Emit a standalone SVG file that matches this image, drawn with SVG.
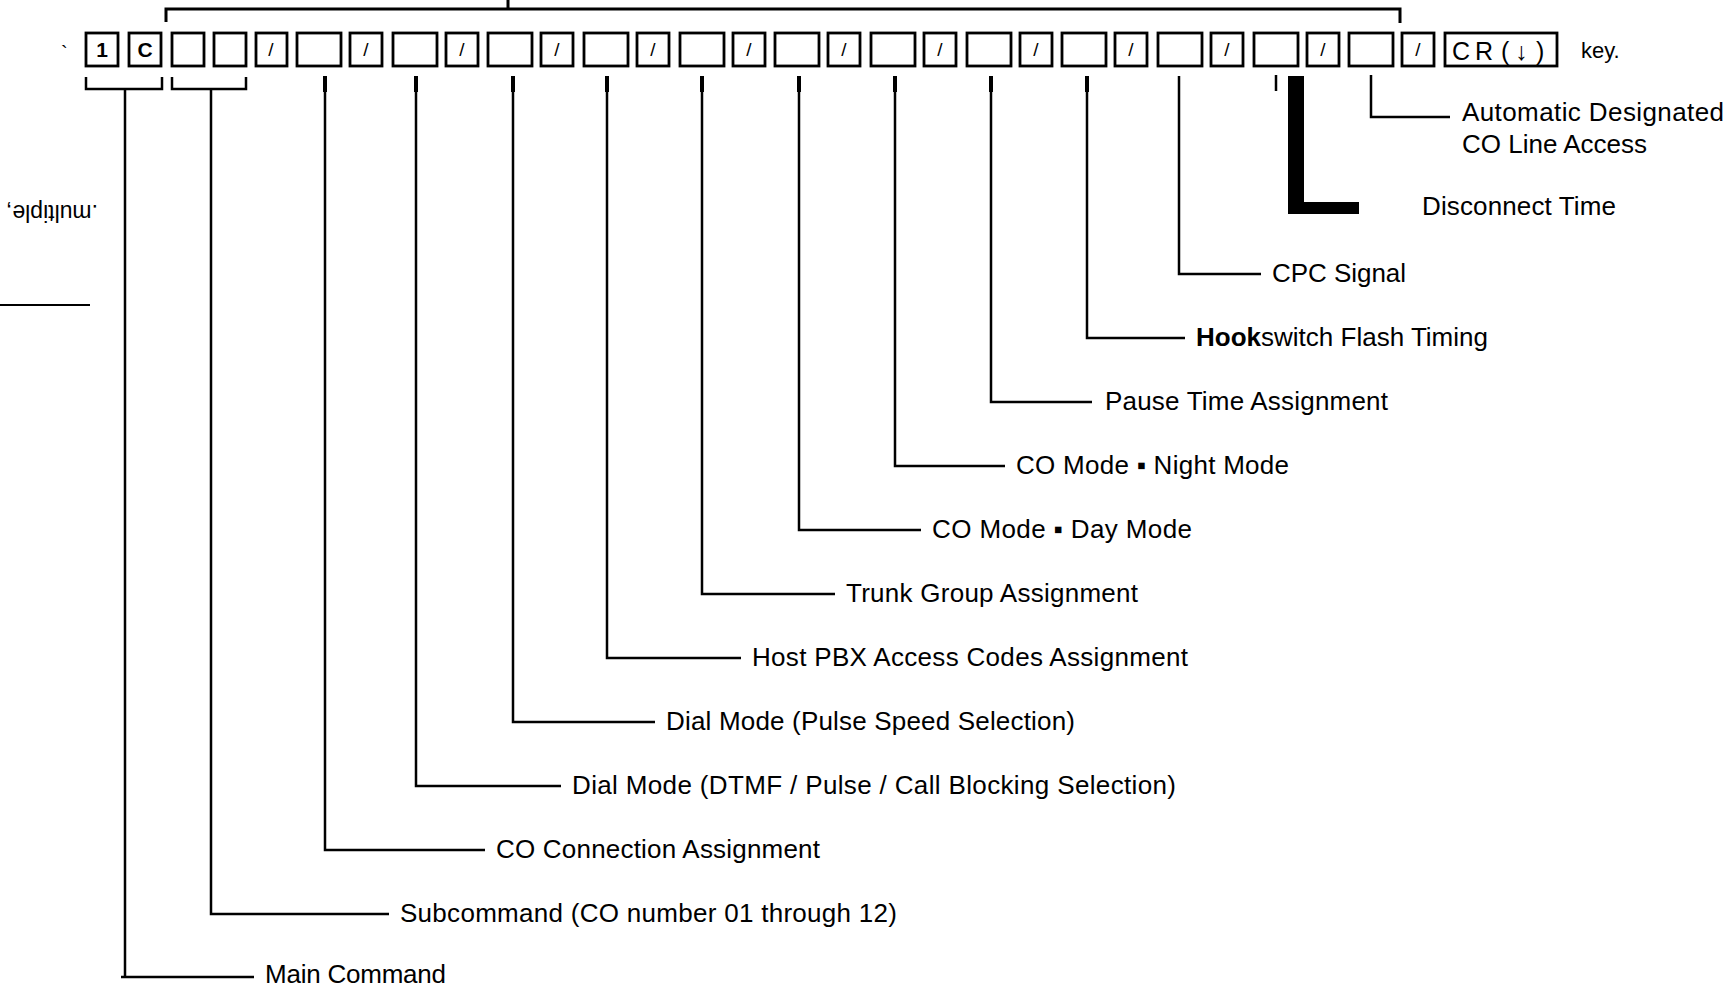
<svg xmlns="http://www.w3.org/2000/svg" width="1734" height="986" viewBox="0 0 1734 986">
<style>
.box{fill:#fff;stroke:#000;stroke-width:2.8}
.ln{fill:none;stroke:#000;stroke-width:2.5}
.bk{fill:none;stroke:#000;stroke-width:3}
.thick{fill:none;stroke:#000;stroke-width:4}
.t{font-family:"Liberation Sans",Arial,Helvetica,sans-serif;fill:#000}
.lbl{font-size:26px}
.kc{font-size:21px;font-weight:bold;text-anchor:middle}
.sl{font-size:19px;text-anchor:middle}
.cr{font-size:25px}
</style>
<rect width="1734" height="986" fill="#fff"/>

<g id="margin-notes">
<text class="t" x="61" y="60" font-size="20">`</text>
<text class="t" font-size="23" transform="translate(98,205) rotate(180)">.multiple,</text>
<path d="M0,305 H90" stroke="#000" stroke-width="2.2" fill="none"/>
</g>

<g id="keys">
<g id="key-1"><rect class="box" x="86" y="33" width="32" height="33"/><text class="t kc" x="102" y="57">1</text></g>
<g id="key-C"><rect class="box" x="129" y="33" width="32" height="33"/><text class="t kc" x="145" y="57">C</text></g>
<g id="key-sub1"><rect class="box" x="172" y="33" width="32" height="33"/></g>
<g id="key-sub2"><rect class="box" x="214" y="33" width="32" height="33"/></g>
<g id="key-s0"><rect class="box" x="256" y="33" width="31" height="33"/><text class="t sl" x="271" y="56">/</text></g>

<g id="key-e0"><rect class="box" x="297" y="33" width="44" height="33"/></g>
<g id="key-s1"><rect class="box" x="350" y="33" width="32" height="33"/><text class="t sl" x="366" y="56">/</text></g>
<g id="key-e1"><rect class="box" x="393" y="33" width="44" height="33"/></g>
<g id="key-s2"><rect class="box" x="446" y="33" width="32" height="33"/><text class="t sl" x="462" y="56">/</text></g>
<g id="key-e2"><rect class="box" x="488" y="33" width="44" height="33"/></g>
<g id="key-s3"><rect class="box" x="541" y="33" width="32" height="33"/><text class="t sl" x="557" y="56">/</text></g>
<g id="key-e3"><rect class="box" x="584" y="33" width="44" height="33"/></g>
<g id="key-s4"><rect class="box" x="637" y="33" width="32" height="33"/><text class="t sl" x="653" y="56">/</text></g>
<g id="key-e4"><rect class="box" x="680" y="33" width="44" height="33"/></g>
<g id="key-s5"><rect class="box" x="733" y="33" width="32" height="33"/><text class="t sl" x="749" y="56">/</text></g>
<g id="key-e5"><rect class="box" x="775" y="33" width="44" height="33"/></g>
<g id="key-s6"><rect class="box" x="828" y="33" width="32" height="33"/><text class="t sl" x="844" y="56">/</text></g>
<g id="key-e6"><rect class="box" x="871" y="33" width="44" height="33"/></g>
<g id="key-s7"><rect class="box" x="924" y="33" width="32" height="33"/><text class="t sl" x="940" y="56">/</text></g>
<g id="key-e7"><rect class="box" x="967" y="33" width="44" height="33"/></g>
<g id="key-s8"><rect class="box" x="1020" y="33" width="32" height="33"/><text class="t sl" x="1036" y="56">/</text></g>
<g id="key-e8"><rect class="box" x="1062" y="33" width="44" height="33"/></g>
<g id="key-s9"><rect class="box" x="1115" y="33" width="32" height="33"/><text class="t sl" x="1131" y="56">/</text></g>
<g id="key-e9"><rect class="box" x="1158" y="33" width="44" height="33"/></g>
<g id="key-s10"><rect class="box" x="1211" y="33" width="32" height="33"/><text class="t sl" x="1227" y="56">/</text></g>
<g id="key-e10"><rect class="box" x="1254" y="33" width="44" height="33"/></g>
<g id="key-s11"><rect class="box" x="1307" y="33" width="32" height="33"/><text class="t sl" x="1323" y="56">/</text></g>
<g id="key-e11"><rect class="box" x="1349" y="33" width="44" height="33"/></g>
<g id="key-s12"><rect class="box" x="1402" y="33" width="32" height="33"/><text class="t sl" x="1418" y="56">/</text></g>
<g id="key-CR"><rect class="box" x="1445" y="33" width="112" height="33"/><text class="t cr" x="1452 1475 1501 1515 1536" y="60">CR(↓)</text></g>
<text id="key-word" class="t" x="1581" y="58" font-size="22">key.</text>
</g>

<g id="connectors">
<path class="bk" d="M166,22 V9 H1400 V23"/>
<path class="bk" d="M508,0 V9"/>
<path class="ln" d="M86,77 V89 H162 V77"/>
<path class="ln" d="M172,77 V89 H246 V77"/>
<path class="ln" stroke-width="3" d="M125,89 V977 M121,977 H254"/>
<path class="ln" stroke-width="3" d="M211,89 V914 H389"/>
<path class="ln" d="M325,76 V850 H485"/>
<path class="ln" d="M416,76 V786 H561"/>
<path class="ln" d="M513,76 V722 H655"/>
<path class="ln" d="M607,76 V658 H741"/>
<path class="ln" d="M702,76 V594 H835"/>
<path class="ln" d="M799,76 V530 H921"/>
<path class="ln" d="M895,76 V466 H1005"/>
<path class="ln" d="M991,76 V402 H1092"/>
<path class="ln" d="M1087,76 V338 H1185"/>
<path class="ln" d="M1179,76 V274 H1261"/>
<path class="ln" stroke-width="2" d="M1276,75 V91"/>
<path class="ln" d="M1371,75 V117 H1450"/>
<path class="thick" d="M325,76 V92 M416,76 V92 M513,76 V92 M607,76 V92 M702,76 V92 M799,76 V92 M895,76 V92 M991,76 V92 M1087,76 V92"/>
<path d="M1288,76 H1304 V202 H1359 V214 H1288 Z" fill="#000"/>
</g>

<g id="labels">
<g id="lbl-auto"><text class="t lbl" x="1462" y="121" textLength="262">Automatic  Designated</text><text class="t lbl" x="1462" y="153" textLength="185">CO  Line  Access</text></g>
<g id="lbl-disconnect"><text class="t lbl" x="1422" y="215" textLength="194">Disconnect Time</text></g>
<g id="lbl-cpc"><text class="t lbl" x="1272" y="282" textLength="134">CPC Signal</text></g>
<g id="lbl-hook"><text class="t lbl" x="1196" y="346" textLength="292"><tspan font-weight="bold">Hook</tspan>switch Flash Timing</text></g>
<g id="lbl-pause"><text class="t lbl" x="1105" y="410" textLength="283">Pause Time Assignment</text></g>
<g id="lbl-night"><text class="t lbl" x="1016" y="474" textLength="273">CO Mode ▪ Night Mode</text></g>
<g id="lbl-day"><text class="t lbl" x="932" y="538" textLength="260">CO Mode ▪ Day Mode</text></g>
<g id="lbl-trunk"><text class="t lbl" x="846" y="602" textLength="292">Trunk Group Assignment</text></g>
<g id="lbl-host"><text class="t lbl" x="752" y="666" textLength="436">Host PBX Access Codes Assignment</text></g>
<g id="lbl-pulse"><text class="t lbl" x="666" y="730" textLength="409">Dial Mode (Pulse Speed Selection)</text></g>
<g id="lbl-dtmf"><text class="t lbl" x="572" y="794" textLength="604">Dial Mode (DTMF / Pulse / Call Blocking Selection)</text></g>
<g id="lbl-coconn"><text class="t lbl" x="496" y="858" textLength="324">CO Connection Assignment</text></g>
<g id="lbl-sub"><text class="t lbl" x="400" y="922" textLength="497">Subcommand (CO number 01 through 12)</text></g>
<g id="lbl-main"><text class="t lbl" x="265" y="983" textLength="181">Main Command</text></g>
</g>
</svg>
